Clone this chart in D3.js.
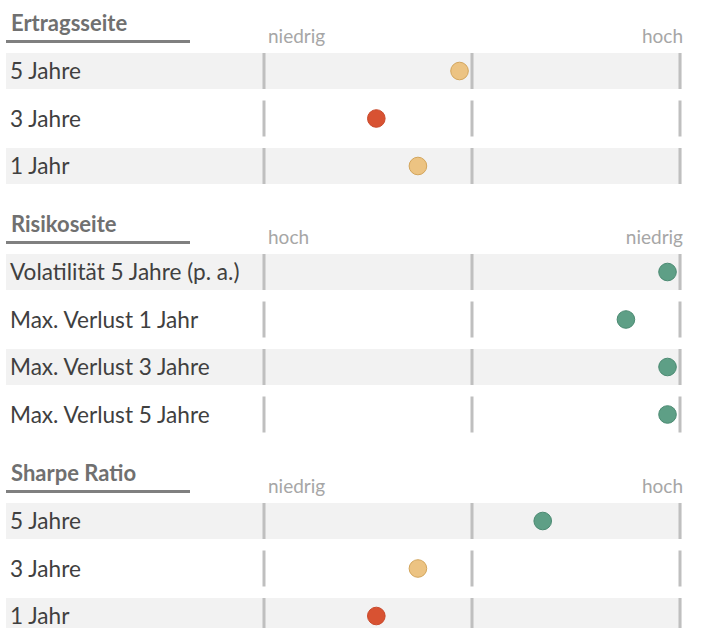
<!DOCTYPE html>
<html>
<head>
<meta charset="utf-8">
<script src="https://cdn.jsdelivr.net/npm/d3@7"></script>
<style>
  body { margin: 0; background: #fff; }
  svg { display: block; font-family: Lato, "Open Sans", sans-serif; }
</style>
</head>
<body>
<div id="chart"></div>
<script>
// section titles and axis end labels
var sections = ['Ertragsseite', 'Risikoseite', 'Sharpe Ratio'];
var axisLeft = ['niedrig', 'hoch', 'niedrig'];
var axisRight = ['hoch', 'niedrig', 'hoch'];

// row labels per section
var ertragLabels = ['5 Jahre', '3 Jahre', '1 Jahr'];
var risikoLabels = ['Volatilität 5 Jahre (p. a.)', 'Max. Verlust 1 Jahr', 'Max. Verlust 3 Jahre', 'Max. Verlust 5 Jahre'];
var sharpeLabels = ['5 Jahre', '3 Jahre', '1 Jahr'];

// position of the dot on the scale (0 = left, 100 = right)
var ertragValues = [47, 27, 37];
var risikoValues = [97, 87, 97, 97];
var sharpeValues = [67, 37, 27];

var width = 702, height = 628;
var rowStep = 47.5, bandH = 36;
var sectionTops = [53, 254, 503];

var svg = d3.select('#chart').append('svg')
	.attr('width', width)
	.attr('height', height);

var x = d3.scaleLinear().domain([0, 100]).range([264, 680]);
var ticks = [0, 50, 100];

var color = d3.scaleThreshold()
	.domain([30, 60])
	.range(['#d85232', '#ecc382', '#5e9f86']);
var stroke = d3.scaleThreshold()
	.domain([30, 60])
	.range(['#c9492b', '#d3a55b', '#4b8a72']);

var allLabels = [ertragLabels, risikoLabels, sharpeLabels];
var allValues = [ertragValues, risikoValues, sharpeValues];

sections.forEach(function(title, s) {
	var labels = allLabels[s];
	var values = allValues[s];
	var top = sectionTops[s];
	var n = labels.length;

	var y = d3.scaleBand()
		.domain(labels)
		.range([top, top + rowStep * n - (rowStep - bandH)])
		.paddingInner((rowStep - bandH) / rowStep)
		.paddingOuter(0);

	var g = svg.append('g');

	// title + underline
	g.append('text')
		.attr('x', 11)
		.attr('y', top - 22)
		.attr('font-size', 22)
		.attr('font-weight', 'bold')
		.attr('fill', '#707070')
		.text(title);

	g.append('line')
		.attr('x1', 6).attr('x2', 190)
		.attr('y1', top - 11.5).attr('y2', top - 11.5)
		.attr('stroke', '#808080')
		.attr('stroke-width', 3);

	g.append('text')
		.attr('x', 268)
		.attr('y', top - 10)
		.attr('font-size', 19)
		.attr('fill', '#a6a6a6')
		.text(axisLeft[s]);

	g.append('text')
		.attr('x', 683)
		.attr('y', top - 10)
		.attr('text-anchor', 'end')
		.attr('font-size', 19)
		.attr('fill', '#a6a6a6')
		.text(axisRight[s]);

	var rows = g.selectAll('g.row')
		.data(labels.map(function(l, i) { return {label: l, value: values[i], i: i}; }))
		.enter().append('g')
		.attr('class', 'row');

	rows.filter(function(d) { return d.i % 2 === 0; })
		.append('rect')
		.attr('x', 6)
		.attr('y', function(d) { return y(d.label); })
		.attr('width', 675.5)
		.attr('height', y.bandwidth())
		.attr('fill', '#f2f2f2');

	rows.append('text')
		.attr('x', 10)
		.attr('y', function(d) { return y(d.label) + y.bandwidth() / 2 + 8; })
		.attr('font-size', 22.6)
		.attr('fill', '#404040')
		.text(function(d) { return d.label; });

	rows.selectAll('line.tick')
		.data(function(d) { return ticks.map(function(t) { return {t: t, label: d.label}; }); })
		.enter().append('line')
		.attr('class', 'tick')
		.attr('x1', function(d) { return x(d.t); })
		.attr('x2', function(d) { return x(d.t); })
		.attr('y1', function(d) { return y(d.label); })
		.attr('y2', function(d) { return y(d.label) + y.bandwidth(); })
		.attr('stroke', '#bfbfbf')
		.attr('stroke-width', 3);

	rows.append('circle')
		.attr('cx', function(d) { return x(d.value); })
		.attr('cy', function(d) { return y(d.label) + y.bandwidth() / 2; })
		.attr('r', 8.8)
		.attr('fill', function(d) { return color(d.value); })
		.attr('stroke', function(d) { return stroke(d.value); })
		.attr('stroke-width', 1);
});
</script>
</body>
</html>
